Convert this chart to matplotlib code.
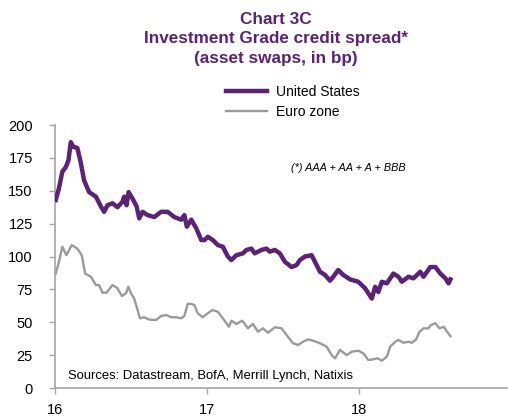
import matplotlib
matplotlib.use("Agg")
import matplotlib.pyplot as plt

plt.rcParams['font.family'] = ['Liberation Sans', 'DejaVu Sans']

PURPLE = "#5b2277"
GREY = "#9a9a9a"
AXIS = "#a6a6a6"

# Investment grade asset-swap spreads, bp (x in years: 16 = 2016)
us_years = [16.005, 16.026, 16.048, 16.071, 16.088, 16.104, 16.119, 16.147, 16.170, 16.191,
            16.224, 16.269, 16.302, 16.323, 16.345, 16.378, 16.411, 16.444, 16.455, 16.471,
            16.484, 16.510, 16.537, 16.554, 16.576, 16.609, 16.653, 16.698, 16.741, 16.785,
            16.830, 16.851, 16.867, 16.896, 16.929, 16.962, 16.983, 17.005, 17.038, 17.071,
            17.104, 17.137, 17.160, 17.193, 17.236, 17.259, 17.292, 17.314, 17.358, 17.391,
            17.413, 17.446, 17.479, 17.512, 17.556, 17.589, 17.611, 17.644, 17.688, 17.710,
            17.743, 17.776, 17.809, 17.830, 17.863, 17.896, 17.941, 17.995, 18.040, 18.084,
            18.106, 18.127, 18.150, 18.183, 18.226, 18.259, 18.282, 18.325, 18.358, 18.403,
            18.424, 18.469, 18.502, 18.535, 18.568, 18.589, 18.601]
us_spread = [143, 152, 164.5, 168, 173, 187, 183.5, 182.5, 171, 158,
             149, 145.5, 138, 134, 139, 140.5, 137.5, 141.7, 145.5, 139,
             149, 144, 138, 129, 134, 131.5, 130, 134, 134, 130,
             128, 131.5, 122.7, 128, 121.5, 112.5, 112.5, 115, 112.5, 108.7,
             107.4, 100, 97.3, 101, 102.4, 105, 106, 102.4, 105, 106,
             103.7, 105, 102.4, 96, 92, 93.5, 97.3, 100, 101, 96,
             88.4, 86, 81.6, 84.6, 89.7, 86, 82.6, 80.8, 75.8, 68,
             77, 73, 80.8, 79.6, 87, 84.6, 80.8, 84.6, 83.4, 88.4,
             84.6, 92, 92, 87, 83.4, 79.6, 82.6]

ez_years = [16.005, 16.026, 16.048, 16.075, 16.110, 16.147, 16.176, 16.198, 16.236, 16.269,
            16.290, 16.312, 16.339, 16.378, 16.411, 16.440, 16.467, 16.482, 16.500, 16.521,
            16.543, 16.559, 16.587, 16.620, 16.665, 16.698, 16.731, 16.764, 16.797, 16.830,
            16.851, 16.873, 16.896, 16.917, 16.939, 16.972, 17.005, 17.034, 17.071, 17.104,
            17.144, 17.160, 17.193, 17.232, 17.269, 17.302, 17.335, 17.368, 17.401, 17.446,
            17.490, 17.523, 17.566, 17.599, 17.632, 17.665, 17.698, 17.743, 17.787, 17.820,
            17.842, 17.875, 17.919, 17.952, 17.995, 18.028, 18.061, 18.094, 18.121, 18.150,
            18.183, 18.205, 18.238, 18.259, 18.292, 18.325, 18.348, 18.376, 18.398, 18.424,
            18.457, 18.473, 18.502, 18.530, 18.557, 18.579, 18.601]
ez_spread = [87, 96, 107.4, 101, 108.7, 106, 101, 87, 84.6, 78.3,
             78.3, 72.5, 72.5, 78.3, 75.8, 70, 72, 77, 72, 68,
             59.3, 53, 53.8, 52, 51.7, 54.8, 55.5, 53.8, 53.8, 53,
             54.8, 64, 64, 63, 56.8, 53.8, 56.8, 59.3, 58, 53,
             46.6, 51.2, 48.7, 51.2, 45.4, 48.7, 42.8, 45.4, 42, 46.2,
             45.4, 40.3, 34, 32.7, 35.2, 37, 36, 34, 31.4, 25,
             22.6, 29, 25, 27.6, 28.4, 26.4, 21.3, 21.8, 22.6, 20.8,
             23.8, 31.4, 35.2, 36.5, 34.4, 35.2, 34.4, 37, 42.8, 45.4,
             45.4, 47.9, 49.2, 45.4, 46.6, 42.8, 39.5]

x_ticks = [16, 17, 18]
y_ticks = [0, 25, 50, 75, 100, 125, 150, 175, 200]

title_lines = ["Chart 3C", "Investment Grade credit spread*", "(asset swaps, in bp)"]

fig = plt.figure(figsize=(5.08, 4.16), dpi=100)
ax = fig.add_axes([0.1083, 0.0673, 0.8917, 0.6322])

ax.plot(ez_years, ez_spread, color=GREY, lw=1.7, label="Euro zone", zorder=2)
ax.plot(us_years, us_spread, color=PURPLE, lw=3.2, label="United States", zorder=3)

ax.set_xlim(16, 18.98)
ax.set_ylim(0, 200)
ax.set_xticks(x_ticks)
ax.set_xticklabels([str(t) for t in x_ticks])
ax.set_yticks(y_ticks)
ax.tick_params(axis='both', colors=AXIS, labelcolor='black', labelsize=10.5,
               length=4, width=1)
ax.tick_params(axis='y', pad=12)
ax.tick_params(axis='x', pad=7)
for side in ("top", "right"):
    ax.spines[side].set_visible(False)
for side in ("left", "bottom"):
    ax.spines[side].set_color(AXIS)
    ax.spines[side].set_linewidth(1.2)

for line, ypix in zip(title_lines, [19, 39, 58]):
    fig.text(276 / 508, 1 - ypix / 416, line, ha='center', va='center',
             color=PURPLE, fontsize=12.3, fontweight='bold')

handles, labels = ax.get_legend_handles_labels()
leg = fig.legend(handles[::-1], labels[::-1], loc='upper left',
                 bbox_to_anchor=(0.432, 0.813), frameon=False, fontsize=10,
                 handlelength=2.9, handletextpad=0.7, labelspacing=0.45, borderpad=0)

fig.text(291 / 508, 1 - 168 / 416, "(*) AAA + AA + A + BBB", ha='left', va='center',
         fontsize=7.8, style='italic')
fig.text(68 / 508, 1 - 376 / 416, "Sources: Datastream, BofA, Merrill Lynch, Natixis",
         ha='left', va='center', fontsize=9.4)

fig.savefig("out.png", dpi=100)
